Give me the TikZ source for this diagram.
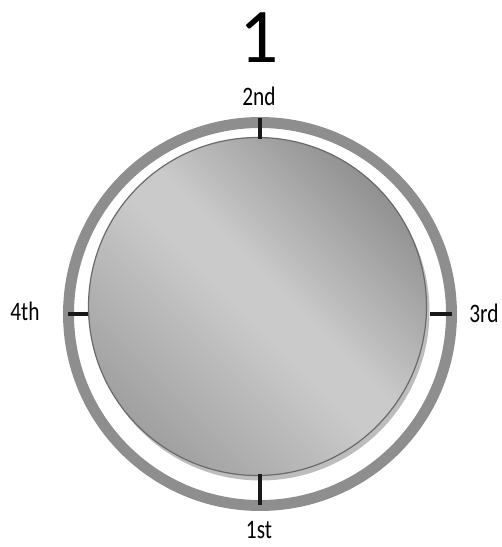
\documentclass[tikz,border=0pt]{standalone}
\usepackage{fontspec}
\setmainfont{Carlito}
\usepackage{xcolor}
\usepackage{tikz}
\usetikzlibrary{positioning,calc}
\definecolor{RingGray}{HTML}{8E8E8E}
\definecolor{DiskEdge}{HTML}{6A6A6A}
\definecolor{DiskShadow}{HTML}{BDBDBD}
\definecolor{DiskDark}{HTML}{898989}
\definecolor{DiskLight}{HTML}{CACACA}
\definecolor{DiskMid}{HTML}{A0A0A0}
\pgfdeclareverticalshading{diskshade}{100bp}{color(0bp)=(DiskMid); color(25bp)=(DiskMid);
  color(48bp)=(DiskLight); color(54bp)=(DiskLight); color(78bp)=(DiskDark); color(100bp)=(DiskDark)}

\begin{document}
\begin{tikzpicture}[x=0.75pt,y=-0.75pt,font=\fontsize{20}{24}\selectfont,
  tick/.style={black!90,line width=2.4pt},
  placelabel/.style={inner sep=0pt,xscale=0.8}]
  \useasboundingbox (0,0) rectangle (501,547);
  \coordinate (c) at (260,314);
  \coordinate (d) at (257.5,306.5);
  % outer ring and the disk with its shadow
  \draw[RingGray,line width=8.2pt] (c) circle (191.5);
  \fill[DiskShadow] ($(d)+(3,5)$) circle (169);
  \shade[shading=diskshade,shading angle=-45] (d) circle (169);
  \draw[DiskEdge,line width=0.9pt] (d) circle (169);
  \foreach \x/\y/\u/\v in {260/118/260/139, 68/314/88/314, 430/314/452/314, 260/474/260/505}
    \draw[tick] (\x,\y)--(\u,\v);
  \node[inner sep=0pt,font=\fontsize{58}{60}\selectfont] (num) at (259,38) {1};
  \node[placelabel] (second) at (259,96) {2nd};
  \node[placelabel] (fourth) at (25,311) {4th};
  \node[placelabel] (third) at (484,313) {3rd};
  \node[placelabel] (first) at (259,530) {1st};
\end{tikzpicture}
\end{document}
